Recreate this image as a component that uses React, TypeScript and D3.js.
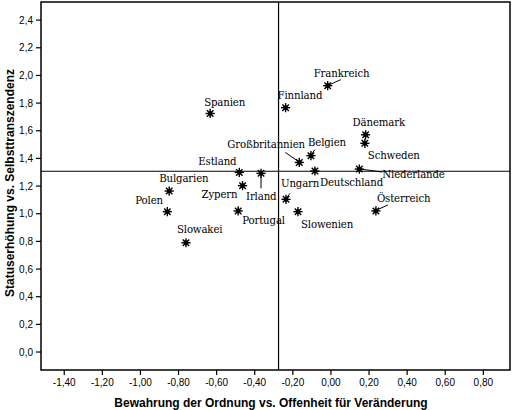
import React, { useEffect, useRef } from 'react';
import * as d3 from 'd3';

// Countries with their two value dimensions
const countries = [
  'Spanien', 'Frankreich', 'Finnland', 'Dänemark', 'Schweden', 'Niederlande',
  'Belgien', 'Großbritannien', 'Estland', 'Irland', 'Deutschland', 'Ungarn',
  'Zypern', 'Portugal', 'Bulgarien', 'Polen', 'Slowakei', 'Slowenien', 'Österreich',
];
const opennessValues = [
  -0.634, -0.017, -0.238, 0.182, 0.178, 0.149,
  -0.105, -0.166, -0.481, -0.367, -0.084, -0.236,
  -0.464, -0.487, -0.849, -0.859, -0.761, -0.173, 0.236,
];
const transcendenceValues = [
  1.725, 1.926, 1.767, 1.571, 1.509, 1.323,
  1.42, 1.371, 1.299, 1.292, 1.309, 1.104,
  1.203, 1.02, 1.164, 1.015, 0.79, 1.015, 1.02,
];

// Mean reference lines
const xReference = -0.275;
const yReference = 1.307;

const xTicks = [-1.4, -1.2, -1.0, -0.8, -0.6, -0.4, -0.2, 0.0, 0.2, 0.4, 0.6, 0.8];
const yTicks = [0.0, 0.2, 0.4, 0.6, 0.8, 1.0, 1.2, 1.4, 1.6, 1.8, 2.0, 2.2, 2.4];

const xTitle = 'Bewahrung der Ordnung vs. Offenheit für Veränderung';
const yTitle = 'Statuserhöhung vs. Selbsttranszendenz';

// label placement (pixel offsets from marker) and leader lines
const labelOffsets: Record<string, [number, number]> = {
  Spanien: [-6, -7],
  Frankreich: [-14, -9],
  Finnland: [-8, -9],
  Dänemark: [-13, -9],
  Schweden: [3, 16],
  Niederlande: [23, 9],
  Belgien: [-3, -10],
  Großbritannien: [-72, -14],
  Estland: [-41, -7],
  Irland: [-15, 27],
  Deutschland: [5, 15],
  Ungarn: [-5, -12],
  Zypern: [-41, 12],
  Portugal: [4, 13],
  Bulgarien: [-10, -9],
  Polen: [-32, -8],
  Slowakei: [-9, -10],
  Slowenien: [3, 16],
  Österreich: [1, -9],
};
const leaders: Record<string, [number, number, number, number]> = {
  Frankreich: [2, -1, 13, -6],
  Belgien: [1, -2, 4, -6],
  Großbritannien: [-1, -1, -14, -10],
  Niederlande: [1, 0, 23, 3],
  Irland: [0, 3, 0, 15],
  Österreich: [1, -1, 12, -6],
  Ungarn: [1, -2, 4, -6],
};

const sans = "'Liberation Sans', Arial, sans-serif";
const serif = "'DejaVu Serif', serif";

const App = () => {
  const svgRef = useRef<SVGSVGElement | null>(null);

  useEffect(() => {
    if (!svgRef.current) return;
    const width = 512;
    const height = 410;
    const svg = d3.select(svgRef.current);
    svg.attr('width', width).attr('height', height);
    svg.selectAll('*').remove();

    const left = 41, right = 510, top = 2, bottom = 370;

    const x = d3.scaleLinear().domain([-1.522, 0.94]).range([left, right]);
    const y = d3.scaleLinear().domain([-0.13, 2.531]).range([bottom, top]);

    svg.append('rect').attr('width', width).attr('height', height).attr('fill', '#fff');

    // reference lines
    svg.append('line')
      .attr('x1', x(xReference)).attr('x2', x(xReference))
      .attr('y1', top).attr('y2', bottom)
      .attr('stroke', '#000').attr('stroke-width', 1.2);
    svg.append('line')
      .attr('x1', left).attr('x2', right)
      .attr('y1', y(yReference)).attr('y2', y(yReference))
      .attr('stroke', '#000').attr('stroke-width', 1.2);

    // frame
    svg.append('rect')
      .attr('x', left).attr('y', top)
      .attr('width', right - left).attr('height', bottom - top)
      .attr('fill', 'none').attr('stroke', '#000').attr('stroke-width', 1.5);

    const fmt = (v: number, d: number) => v.toFixed(d).replace('.', ',');

    // x axis
    xTicks.forEach(t => {
      svg.append('line')
        .attr('x1', x(t)).attr('x2', x(t))
        .attr('y1', bottom).attr('y2', bottom + 5)
        .attr('stroke', '#000').attr('stroke-width', 1.2);
      svg.append('text')
        .attr('x', x(t)).attr('y', bottom + 16)
        .attr('text-anchor', 'middle')
        .attr('font-family', sans)
        .attr('font-size', 10)
        .text(fmt(t, 2));
    });

    // y axis
    yTicks.forEach(t => {
      svg.append('line')
        .attr('x1', left - 5).attr('x2', left)
        .attr('y1', y(t)).attr('y2', y(t))
        .attr('stroke', '#000').attr('stroke-width', 1.2);
      svg.append('text')
        .attr('x', left - 8).attr('y', y(t))
        .attr('dy', '0.35em')
        .attr('text-anchor', 'end')
        .attr('font-family', sans)
        .attr('font-size', 10)
        .text(fmt(t, 1));
    });

    svg.append('text')
      .attr('x', 271).attr('y', 407)
      .attr('text-anchor', 'middle')
      .attr('font-family', sans)
      .attr('font-size', 12)
      .attr('font-weight', 'bold')
      .text(xTitle);

    svg.append('text')
      .attr('transform', 'translate(14,183) rotate(-90)')
      .attr('text-anchor', 'middle')
      .attr('font-family', sans)
      .attr('font-size', 12)
      .attr('font-weight', 'bold')
      .text(yTitle);

    const points = countries.map((c, i) => ({
      name: c,
      px: x(opennessValues[i]),
      py: y(transcendenceValues[i]),
    }));

    // leader lines
    points.forEach(p => {
      const l = leaders[p.name];
      if (!l) return;
      svg.append('line')
        .attr('x1', p.px + l[0]).attr('y1', p.py + l[1])
        .attr('x2', p.px + l[2]).attr('y2', p.py + l[3])
        .attr('stroke', '#000').attr('stroke-width', 1);
    });

    // asterisk markers
    const g = svg.append('g');
    points.forEach(p => {
      const m = g.append('g').attr('transform', `translate(${p.px},${p.py})`);
      m.append('circle').attr('r', 2.4).attr('fill', '#000');
      [0, 45, 90, 135].forEach(a => {
        const r = 4.6;
        const rad = (a * Math.PI) / 180;
        m.append('line')
          .attr('x1', -r * Math.cos(rad)).attr('y1', -r * Math.sin(rad))
          .attr('x2', r * Math.cos(rad)).attr('y2', r * Math.sin(rad))
          .attr('stroke', '#000').attr('stroke-width', 1.4);
      });
    });

    // labels
    points.forEach(p => {
      const o = labelOffsets[p.name] || [4, -6];
      svg.append('text')
        .attr('x', p.px + o[0]).attr('y', p.py + o[1])
        .attr('font-family', serif)
        .attr('font-size', 10.2)
        .attr('letter-spacing', -0.15)
        .text(p.name);
    });
  }, []);

  return (
    <div style={{ position: 'absolute', left: 0, top: 0 }}>
      <svg ref={svgRef} style={{ display: 'block' }}></svg>
    </div>
  );
};

export default App;
